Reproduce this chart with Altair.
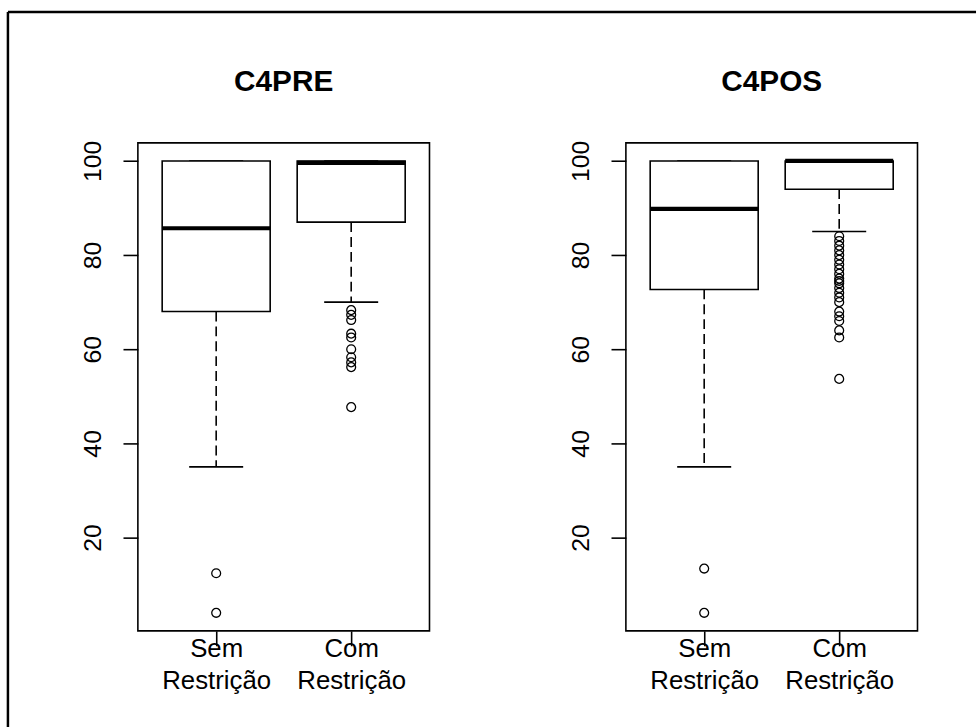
import json

import altair as alt
import pandas as pd

# Groups on the x axis (position 1 and 2, as in R's boxplot)
groups = ["Sem\nRestrição", "Com\nRestrição"]
group_pos = [1, 2]

# C4PRE: whisker ends, quartiles and median per group
pre_lower = [35, 70]
pre_q1 = [68, 87]
pre_median = [85.7, 99.6]
pre_q3 = [100, 100]
pre_upper = [100, 100]
pre_out_sem = [12.4, 4.0]
pre_out_com = [68.3, 67.3, 66.2, 63.3, 62.5, 60.0, 58.3, 57.2, 56.2, 47.7]

# C4POS
pos_lower = [35, 85]
pos_q1 = [72.7, 94]
pos_median = [89.8, 100]
pos_q3 = [100, 100]
pos_upper = [100, 100]
pos_out_sem = [13.4, 4.0]
pos_out_com = [84, 83, 82, 81, 80, 79, 78, 77, 76, 75, 74.5, 74, 73, 72, 71,
                70, 68, 67, 66, 64, 62.5, 53.7]

y_ticks = [20, 40, 60, 80, 100]

FONT = "Liberation Sans"
BOXWEX = 0.8
LW = 1.6
PLOT_W = 294
PLOT_H = 492

# multi-line category labels for the x axis
label_expr = " : ".join(
    f"datum.value == {p} ? {json.dumps(g.split(chr(10)), ensure_ascii=False)}"
    for p, g in zip(group_pos, groups)
) + " : ''"

x_scale = alt.Scale(domain=[0.42, 2.58], nice=False, zero=False)
y_scale = alt.Scale(domain=[0.16, 103.84], nice=False, zero=False)

x_axis = alt.Axis(
    values=group_pos, labelExpr=label_expr, title=None, grid=False, domain=False,
    tickSize=15, tickWidth=LW, tickColor="black", labelFont=FONT, labelFontSize=26,
    labelColor="black", labelBaseline="alphabetic", labelPadding=11,
    labelLineHeight=32, labelAlign="center", labelFlush=False,
)
y_axis = alt.Axis(
    values=y_ticks, title=None, grid=False, domain=False, tickSize=15,
    tickWidth=LW, tickColor="black", labelFont=FONT, labelFontSize=25,
    labelColor="black", labelAngle=270, labelAlign="center",
    labelBaseline="alphabetic", labelPadding=23, labelFlush=False,
)


def panel(title, lower, q1, med, q3, upper, out_sem, out_com, with_frame):
    stats = pd.DataFrame({
        "pos": group_pos, "lower": lower, "q1": q1, "median": med,
        "q3": q3, "upper": upper,
    })
    outs = pd.DataFrame({
        "pos": [group_pos[0]] * len(out_sem) + [group_pos[1]] * len(out_com),
        "value": out_sem + out_com,
    })

    base = alt.Chart(stats).transform_calculate(
        left=f"datum.pos - {BOXWEX / 2}",
        right=f"datum.pos + {BOXWEX / 2}",
        cap_l=f"datum.pos - {BOXWEX / 4}",
        cap_r=f"datum.pos + {BOXWEX / 4}",
    )

    whisk_lo = base.mark_rule(color="black", strokeWidth=LW, strokeDash=[10, 5]).encode(
        x=alt.X("pos:Q", scale=x_scale, axis=x_axis),
        y=alt.Y("q1:Q", scale=y_scale, axis=y_axis),
        y2="lower:Q",
    )
    whisk_hi = base.mark_rule(color="black", strokeWidth=LW, strokeDash=[10, 5]).encode(
        x="pos:Q", y="q3:Q", y2="upper:Q",
    )
    cap_lo = base.mark_rule(color="black", strokeWidth=LW).encode(
        x="cap_l:Q", x2="cap_r:Q", y="lower:Q",
    )
    cap_hi = base.mark_rule(color="black", strokeWidth=LW).encode(
        x="cap_l:Q", x2="cap_r:Q", y="upper:Q",
    )
    box = base.mark_rect(fill="white", stroke="black", strokeWidth=LW).encode(
        x="left:Q", x2="right:Q", y="q1:Q", y2="q3:Q",
    )
    mid = base.mark_rule(color="black", strokeWidth=4.2).encode(
        x="left:Q", x2="right:Q", y="median:Q",
    )
    pts = alt.Chart(outs).mark_point(
        shape="circle", filled=False, size=80, color="black", strokeWidth=1.3,
        opacity=1,
    ).encode(x="pos:Q", y="value:Q")

    # panel heading, centred over the plot box
    one = alt.Chart(pd.DataFrame({"k": [0]}))
    heading = one.mark_text(
        font=FONT, fontSize=30, fontWeight="bold", color="black",
        align="center", baseline="alphabetic",
    ).encode(x=alt.value(PLOT_W / 2), y=alt.value(-52), text=alt.value(title))

    layers = [whisk_lo, whisk_hi, cap_lo, cap_hi, box, mid, pts, heading]

    if with_frame:
        frame_left = one.mark_rule(color="black", strokeWidth=2.5).encode(
            x=alt.value(-131), y=alt.value(-132), y2=alt.value(600),
        )
        frame_top = one.mark_rule(color="black", strokeWidth=2.5).encode(
            x=alt.value(-131), x2=alt.value(845), y=alt.value(-132),
        )
        layers += [frame_left, frame_top]

    return alt.layer(*layers).properties(width=PLOT_W, height=PLOT_H)


left = panel("C4PRE", pre_lower, pre_q1, pre_median, pre_q3, pre_upper,
             pre_out_sem, pre_out_com, True)
right = panel("C4POS", pos_lower, pos_q1, pos_median, pos_q3, pos_upper,
              pos_out_sem, pos_out_com, False)

chart = alt.hconcat(left, right, spacing=198, bounds="flush").properties(
    padding={"left": 5, "top": 6, "right": 0, "bottom": 0},
    background="white",
).configure_view(stroke="black", strokeWidth=LW)

chart.save("out.html", embed_options={"renderer": "svg", "actions": False})
